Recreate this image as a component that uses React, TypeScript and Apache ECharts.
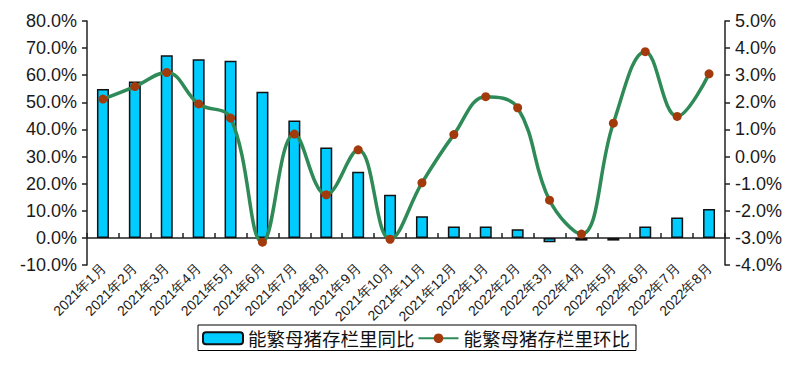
import React, { useEffect, useRef } from 'react';
import * as echarts from 'echarts';

const categories = [
  '2021年1月', '2021年2月', '2021年3月', '2021年4月', '2021年5月', '2021年6月',
  '2021年7月', '2021年8月', '2021年9月', '2021年10月', '2021年11月', '2021年12月',
  '2022年1月', '2022年2月', '2022年3月', '2022年4月', '2022年5月', '2022年6月',
  '2022年7月', '2022年8月',
];
const yoyName = '能繁母猪存栏里同比';
const momName = '能繁母猪存栏里环比';
const yoyValues = [54.9, 57.7, 67.4, 65.9, 65.3, 53.9, 43.3, 33.3, 24.4, 15.9, 8.0, 4.2, 4.2, 3.2, -1.6, -1.0, -1.0, 4.2, 7.5, 10.7];
const momValues = [2.12, 2.58, 3.1, 1.94, 1.42, -3.16, 0.83, -1.41, 0.25, -3.05, -0.97, 0.81, 2.21, 1.8, -1.61, -2.86, 1.23, 3.87, 1.48, 3.05];

export default function App() {
  const ref = useRef<HTMLDivElement>(null);
  useEffect(() => {
    const chart = echarts.init(ref.current!, null, { renderer: 'svg' });
    const axisFont = { fontFamily: 'Liberation Sans, Arial, sans-serif', fontSize: 18, color: '#1a1a1a' };
    chart.setOption({
      animation: false,
      backgroundColor: '#ffffff',
      grid: { left: 87, right: 75, top: 21, bottom: 100, containLabel: false, outerBoundsMode: 'none' },
      legend: {
        left: 198,
        top: 325,
        padding: [4, 6, 3, 4],
        borderColor: '#000',
        borderWidth: 1,
        itemWidth: 40,
        itemHeight: 12,
        itemGap: 3,
        textStyle: { fontFamily: 'Noto Sans CJK SC', fontSize: 18.5, color: '#111' },
        data: [yoyName, momName],
      },
      xAxis: {
        type: 'category',
        data: categories,
        boundaryGap: true,
        axisLine: { show: true, onZero: true, onZeroAxisIndex: 0, lineStyle: { color: '#222', width: 1.5 } },
        axisTick: { show: true, inside: true, length: 5, alignWithLabel: false, lineStyle: { color: '#222', width: 1.5 } },
        axisLabel: {
          rotate: 45,
          margin: 1,
          interval: 0,
          fontFamily: 'Liberation Sans, Arial, sans-serif',
          fontSize: 14,
          color: '#1a1a1a',
        },
        splitLine: { show: false },
      },
      yAxis: [
        {
          type: 'value',
          min: -10,
          max: 80,
          interval: 10,
          axisLine: { show: true, lineStyle: { color: '#222', width: 1.5 } },
          axisTick: { show: true, length: 5, lineStyle: { color: '#222', width: 1.5 } },
          axisLabel: { ...axisFont, margin: 10, formatter: (v: number) => v.toFixed(1) + '%' },
          splitLine: { show: false },
        },
        {
          type: 'value',
          min: -4,
          max: 5,
          interval: 1,
          position: 'right',
          axisLine: { show: true, lineStyle: { color: '#222', width: 1.5 } },
          axisTick: { show: true, length: 5, lineStyle: { color: '#222', width: 1.5 } },
          axisLabel: { ...axisFont, margin: 10, formatter: (v: number) => v.toFixed(1) + '%' },
          splitLine: { show: false },
        },
      ],
      series: [
        {
          name: yoyName,
          type: 'bar',
          yAxisIndex: 0,
          data: yoyValues,
          barWidth: 12,
          itemStyle: { color: '#00CCFF', borderColor: '#111', borderWidth: 1.5 },
        },
        {
          name: momName,
          type: 'line',
          yAxisIndex: 1,
          data: momValues,
          smooth: 0.4,
          symbol: 'circle',
          symbolSize: 9,
          lineStyle: { color: '#2E8B57', width: 3.5 },
          itemStyle: { color: '#A33A0C', borderColor: '#A33A0C', borderWidth: 0 },
          z: 3,
        },
      ],
    });
    return () => chart.dispose();
  }, []);
  return <div ref={ref} style={{ position: 'fixed', left: 0, top: 0, width: 800, height: 365 }} />;
}
